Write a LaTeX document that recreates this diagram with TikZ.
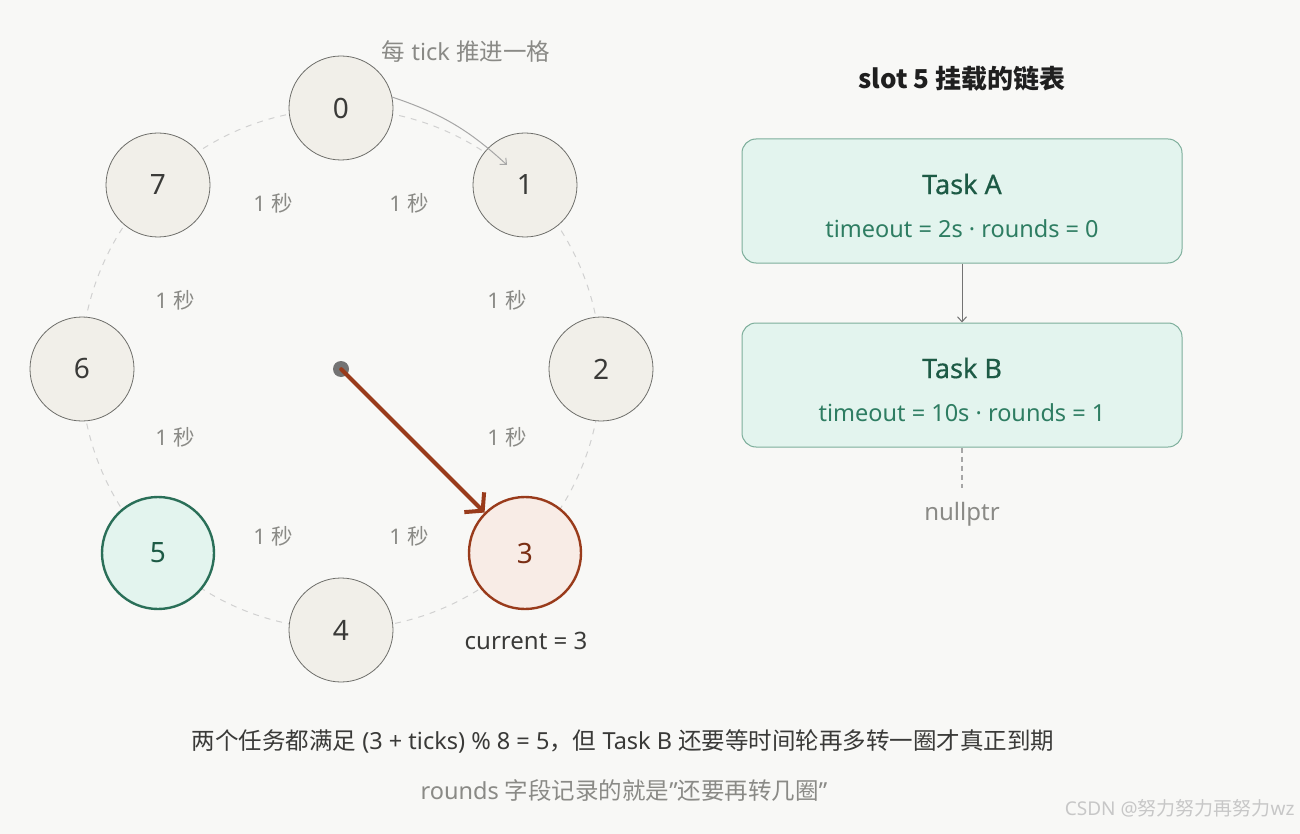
\documentclass[tikz,border=0pt]{standalone}
\usepackage{fontspec}
\setmainfont{Noto Sans}
\newfontfamily\cjk{Noto Sans CJK SC}
\newfontfamily\medium{Noto Sans}[FakeBold=0.5]
\usetikzlibrary{arrows.meta,calc}
\definecolor{bg}{HTML}{F8F8F6}
\definecolor{slotfill}{HTML}{F1EFE9}
\definecolor{slotdraw}{HTML}{6E6E6A}
\definecolor{txt}{HTML}{3A3A38}
\definecolor{mute}{HTML}{8A8A86}
\definecolor{gfill}{HTML}{E3F4EE}
\definecolor{gdraw}{HTML}{2A6F58}
\definecolor{gtxt}{HTML}{1D5A45}
\definecolor{gsub}{HTML}{2E7D62}
\definecolor{gbox}{HTML}{7DAE9B}
\definecolor{rfill}{HTML}{F8ECE6}
\definecolor{rdraw}{HTML}{993B1B}
\definecolor{rtxt}{HTML}{7A2E14}
\tikzset{
  slot/.style={circle, minimum size=104pt, inner sep=0pt, fill=slotfill, draw=slotdraw, line width=0.8pt, text=txt, font=\fontsize{28}{30}\selectfont},
  slotg/.style={slot, minimum size=112pt, fill=gfill, draw=gdraw, line width=2.4pt, text=gtxt},
  slotr/.style={slot, minimum size=112pt, fill=rfill, draw=rdraw, line width=2.4pt, text=rtxt},
  sec/.style={text=mute, font=\fontsize{21.5}{24}\selectfont},
  task/.style={rounded corners=14pt, minimum width=440pt, minimum height=124pt, fill=gfill, draw=gbox, line width=1pt},
  tasktitle/.style={text=gtxt, font=\medium\fontsize{27}{30}\selectfont},
  tasksub/.style={text=gsub, font=\fontsize{23.5}{26}\selectfont},
}
\begin{document}
\begin{tikzpicture}[x=1pt,y=-1pt]
\useasboundingbox (0,0) rectangle (1300,834);
\fill[bg] (0,0) rectangle (1300,834);
\coordinate (c) at (341,369);
\draw[draw=black!18, line width=1pt, dash pattern=on 6pt off 6pt] (c) circle[radius=260];
% slots
\node[slot]  (n0) at (341,108) {0};
\node[slot]  (n1) at (525,185) {1};
\node[slot]  (n2) at (601,369) {2};
\node[slotr] (n3) at (525,553) {3};
\node[slot]  (n4) at (341,630) {4};
\node[slotg] (n5) at (158,553) {5};
\node[slot]  (n6) at (82,369) {6};
\node[slot]  (n7) at (158,185) {7};
% second labels
\node[sec] (s01) at (409,203) {1 {\cjk 秒}};
\node[sec] (s12) at (507,300) {1 {\cjk 秒}};
\node[sec] (s23) at (507,437) {1 {\cjk 秒}};
\node[sec] (s34) at (409,536) {1 {\cjk 秒}};
\node[sec] (s45) at (273,536) {1 {\cjk 秒}};
\node[sec] (s56) at (175,437) {1 {\cjk 秒}};
\node[sec] (s67) at (175,300) {1 {\cjk 秒}};
\node[sec] (s70) at (273,203) {1 {\cjk 秒}};
% tick arrow
\node[text=mute, font=\fontsize{23.5}{26}\selectfont] (tick) at (466,52) {{\cjk 每} tick {\cjk 推进一格}};
\coordinate (tickend) at (507,165);
\draw[black!35, line width=1pt, -{Straight Barb[length=5pt,width=9pt]}] (n0.12) to[bend left=12] (tickend);
% pointer
\fill[black!55] (c) circle[radius=8];
\node[inner sep=0pt, minimum size=0pt] (hub) at (c) {};
\draw[rdraw, line width=4pt, line cap=round, -{Straight Barb[length=12pt,width=28pt,line width=4pt]}] (hub) -- (n3);
\node[text=txt, font=\fontsize{24}{26}\selectfont] (cur) at (526,641) {current = 3};
% linked list
\node[font=\cjk\bfseries\fontsize{26}{30}\selectfont, text=black!88] (title) at (962,79) {slot 5 挂载的链表};
\node[task] (ta) at (962,201) {};
\node[tasktitle] at (962,184) {Task A};
\node[tasksub] at (962,229) {timeout = 2s · rounds = 0};
\node[task] (tb) at (962,385) {};
\node[tasktitle] at (962,368) {Task B};
\node[tasksub] at (962,413) {timeout = 10s · rounds = 1};
\draw[black!55, line width=1pt, -{Straight Barb[length=5pt,width=9pt]}] (ta) -- (tb);
\node[text=mute, font=\fontsize{24}{26}\selectfont] (np) at (962,514) {nullptr};
\coordinate (npend) at (962,488);
\draw[black!35, line width=1.2pt, dash pattern=on 5pt off 4pt] (tb) -- (npend);
% bottom notes
\node[text=txt, font=\fontsize{23.5}{26}\selectfont] (l1) at (623,741) {{\cjk 两个任务都满足} (3 + ticks) \% 8 = 5{\cjk ，但} Task B {\cjk 还要等时间轮再多转一圈才真正到期}};
\node[text=mute, font=\fontsize{23.5}{26}\selectfont] (l2) at (624,791) {rounds {\cjk 字段记录的就是}"{\cjk 还要再转几圈}"};
\node[text=black!22, font=\fontsize{19}{22}\selectfont, anchor=east] (wm) at (1298,808) {CSDN @{\cjk 努力努力再努力}wz};
\end{tikzpicture}
\end{document}
